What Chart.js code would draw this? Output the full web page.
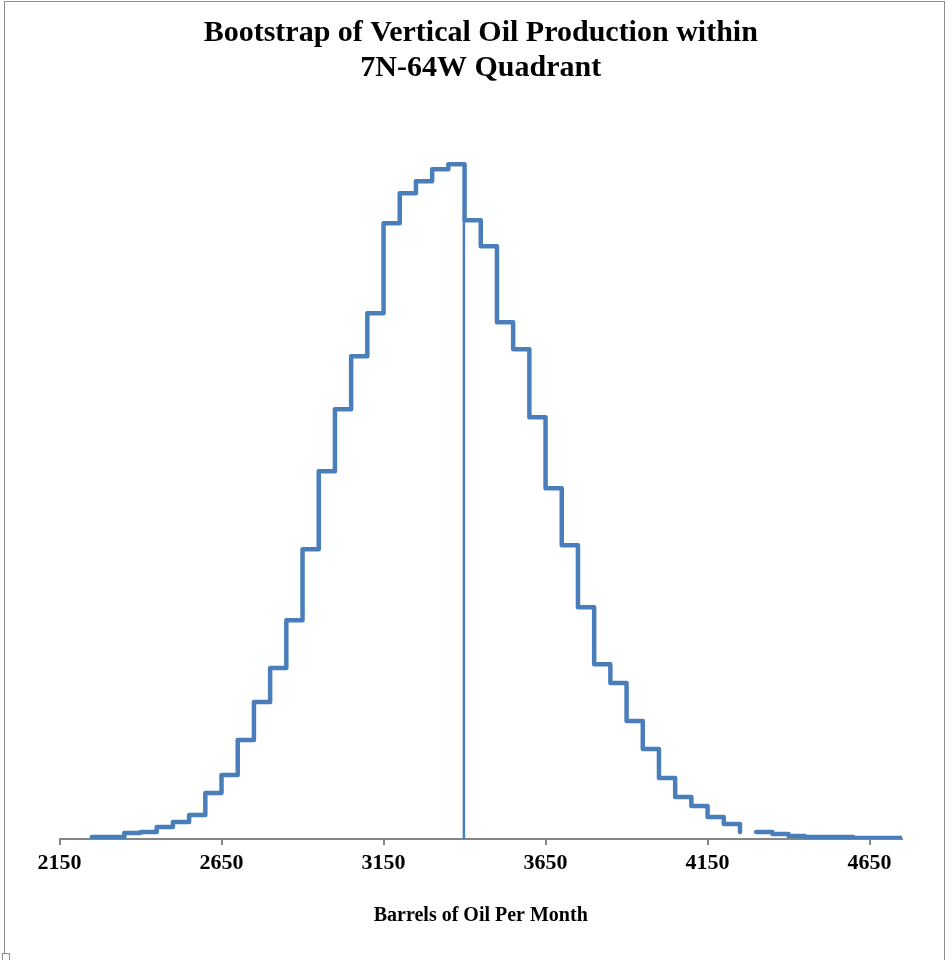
<!DOCTYPE html>
<html>
<head>
<meta charset="utf-8">
<script src="https://cdn.jsdelivr.net/npm/chart.js@4/dist/chart.umd.min.js"></script>
<style>
    html, body { margin: 0; padding: 0; background: #ffffff; }
    #wrap { position: relative; width: 946px; height: 960px; overflow: hidden; }
    #bootstrapChart { position: absolute; left: 0; top: 0; }
    #frame {
        position: absolute; left: 4px; top: 1px; width: 939px; height: 980px;
        border: 1.5px solid #8c8c8c; pointer-events: none;
    }
    #handle {
        position: absolute; left: 2px; top: 953px; width: 6px; height: 6px;
        border: 1px solid #8c8c8c; background: #ffffff;
    }
</style>
</head>
<body>
<div id="wrap">
    <canvas id="bootstrapChart" width="946" height="960"></canvas>
    <div id="frame"></div>
    <div id="handle"></div>
</div>
<script>
// histogram bins (left edge, 50 bbl wide) and frequency of each bin
var binWidth = 50;
var binStart = [2250, 2300, 2350, 2400, 2450, 2500, 2550, 2600, 2650, 2700,
                2750, 2800, 2850, 2900, 2950, 3000, 3050, 3100, 3150, 3200,
                3250, 3300, 3350, 3400, 3450, 3500, 3550, 3600, 3650, 3700,
                3750, 3800, 3850, 3900, 3950, 4000, 4050, 4100, 4150, 4200,
                4250, 4300, 4350, 4400, 4450, 4500, 4550, 4600, 4650, 4700];
var counts = [2, 2, 6, 7, 12, 17, 24, 46, 64, 99,
              137, 171, 219, 290, 368, 430, 483, 526, 616, 646,
              658, 670, 675, 619, 593, 517, 490, 422, 351, 294,
              232, 175, 156, 118, 90, 61, 42, 33, 22, 15,
              7, 7, 5, 3, 2, 2, 2, 1, 1, 1];
// bins whose top segment is missing in the original
var gapBins = [4250];

// vertical marker (mean)
var meanX = [3398, 3398];
var meanY = [0, 619];

var xTicks = [2150, 2650, 3150, 3650, 4150, 4650];
var xMin = 2150;
var xMax = 4750;

var stepPoints = [];
binStart.forEach(function (x0, i) {
    var x1 = x0 + binWidth;
    stepPoints.push({ x: x0, y: counts[i] });
    if (gapBins.indexOf(x0) !== -1) {
        stepPoints.push({ x: (x0 + x1) / 2, y: null });
    }
    stepPoints.push({ x: x1, y: counts[i] });
});

var meanPoints = meanX.map(function (x, i) {
    return { x: x, y: meanY[i] };
});

Chart.defaults.font.family = "'Liberation Serif', 'Times New Roman', serif";
Chart.defaults.color = '#000000';

var ctx = document.getElementById('bootstrapChart').getContext('2d');
var bootstrapChart = new Chart(ctx, {
    type: 'scatter',
    data: {
        datasets: [{
            label: 'Mean',
            data: meanPoints,
            showLine: true,
            borderColor: '#4a7ebb',
            borderWidth: 2.5,
            pointRadius: 0,
            pointHoverRadius: 0
        },
        {
            label: 'Frequency',
            data: stepPoints,
            showLine: true,
            spanGaps: false,
            borderColor: '#4a7ebb',
            borderWidth: 4.5,
            borderCapStyle: 'round',
            borderJoinStyle: 'round',
            pointRadius: 0,
            pointHoverRadius: 0
        }]
    },
    options: {
        responsive: false,
        animation: false,
        devicePixelRatio: 1,
        layout: {
            padding: { left: 59.5, right: 44, top: 0, bottom: 32 }
        },
        plugins: {
            legend: { display: false },
            tooltip: { enabled: false },
            title: {
                display: true,
                text: ['Bootstrap of Vertical Oil Production within', '7N-64W Quadrant'],
                font: { size: 30, weight: 'bold', lineHeight: 1.17 },
                color: '#000000',
                padding: { top: 16, bottom: 53 }
            }
        },
        scales: {
            x: {
                type: 'linear',
                min: xMin,
                max: xMax,
                afterBuildTicks: function (scale) {
                    scale.ticks = xTicks.map(function (v) { return { value: v }; });
                },
                grid: {
                    drawOnChartArea: false,
                    drawTicks: true,
                    tickLength: 6,
                    color: '#868686',
                    lineWidth: 2
                },
                border: { display: true, color: '#868686', width: 2 },
                ticks: {
                    padding: 5,
                    maxRotation: 0,
                    font: { size: 22, weight: 'bold' },
                    color: '#000000',
                    callback: function (v) { return String(v); }
                },
                title: {
                    display: true,
                    text: 'Barrels of Oil Per Month',
                    font: { size: 20, weight: 'bold' },
                    color: '#000000',
                    padding: { top: 22.5, bottom: 0 }
                }
            },
            y: {
                display: false,
                min: 0,
                max: 700
            }
        }
    }
});
</script>
</body>
</html>
